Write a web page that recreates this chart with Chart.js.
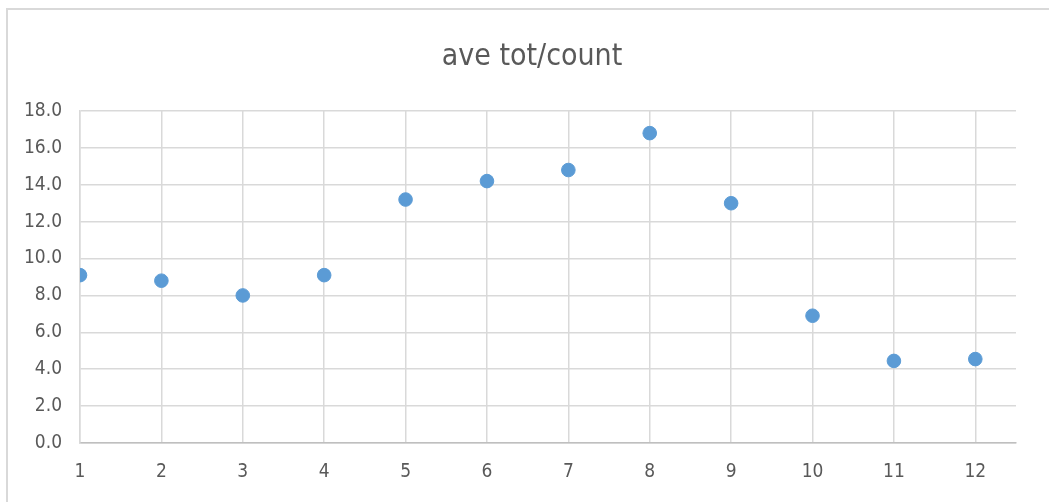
<!DOCTYPE html>
<html>
<head>
<meta charset="utf-8">
<script src="https://cdn.jsdelivr.net/npm/chart.js@4/dist/chart.umd.min.js"></script>
<style>
    body { margin: 0; background: #ffffff; overflow: hidden; }
    #wrap { position: relative; width: 1049px; height: 502px; overflow: hidden; }
    #chart { display: block; }
    #frame {
        position: absolute; left: 6px; top: 8px; width: 1100px; height: 600px;
        border-top: 2px solid #d9d9d9; border-left: 2px solid #d9d9d9;
        pointer-events: none;
    }
</style>
</head>
<body>
<div id="wrap">
    <canvas id="chart" width="1049" height="502"></canvas>
    <div id="frame"></div>
</div>
<script>
// data
const xValues = [1, 2, 3, 4, 5, 6, 7, 8, 9, 10, 11, 12];
const aveValues = [9.1, 8.8, 8.0, 9.1, 13.2, 14.2, 14.8, 16.8, 13.0, 6.9, 4.45, 4.55];
const yTicks = [0, 2, 4, 6, 8, 10, 12, 14, 16, 18];

const font = "'Liberation Sans Narrow', 'DejaVu Sans Condensed', sans-serif";
const textColor = "#595959";
const gridColor = "#d9d9d9";

const points = xValues.map((x, i) => ({ x: x, y: aveValues[i] }));

new Chart(document.getElementById("chart").getContext("2d"), {
    type: "scatter",
    data: {
        datasets: [{
            label: "ave tot/count",
            data: points,
            backgroundColor: "#5b9bd5",
            borderColor: "#5b9bd5",
            pointRadius: 6.8,
            pointHoverRadius: 6.8
        }]
    },
    options: {
        responsive: false,
        animation: false,
        layout: { padding: { top: 0, right: 0, bottom: 0, left: 15 } },
        plugins: {
            legend: { display: false },
            tooltip: { enabled: false },
            title: {
                display: true,
                text: "ave tot/count",
                color: textColor,
                font: { family: font, size: 30, weight: "normal" },
                padding: { top: 39, bottom: 36 }
            }
        },
        scales: {
            x: {
                type: "linear",
                min: 1,
                max: 12.5,
                afterBuildTicks: (axis) => {
                    axis.ticks = xValues.map((v) => ({ value: v }));
                },
                afterFit: (axis) => { axis.height = 59; },
                grid: { color: gridColor, lineWidth: 1.5, drawTicks: false },
                border: { color: "#bfbfbf", width: 1.5 },
                ticks: {
                    color: textColor,
                    padding: 18,
                    font: { family: font, size: 19 }
                }
            },
            y: {
                min: 0,
                max: 18,
                afterBuildTicks: (axis) => {
                    axis.ticks = yTicks.map((v) => ({ value: v }));
                },
                afterFit: (axis) => { axis.width = 65; },
                grid: { color: gridColor, lineWidth: 1.5, drawTicks: false },
                border: { color: gridColor, width: 1.5 },
                ticks: {
                    color: textColor,
                    padding: 18,
                    font: { family: font, size: 19 },
                    callback: (v) => Number(v).toFixed(1)
                }
            },
            // empty right-hand axis, only keeps space to the right of the plot
            yRight: {
                position: "right",
                min: 0,
                max: 18,
                afterFit: (axis) => { axis.width = 33; },
                grid: { display: false, drawTicks: false },
                border: { display: false },
                ticks: { display: false }
            }
        }
    }
});
</script>
</body>
</html>
